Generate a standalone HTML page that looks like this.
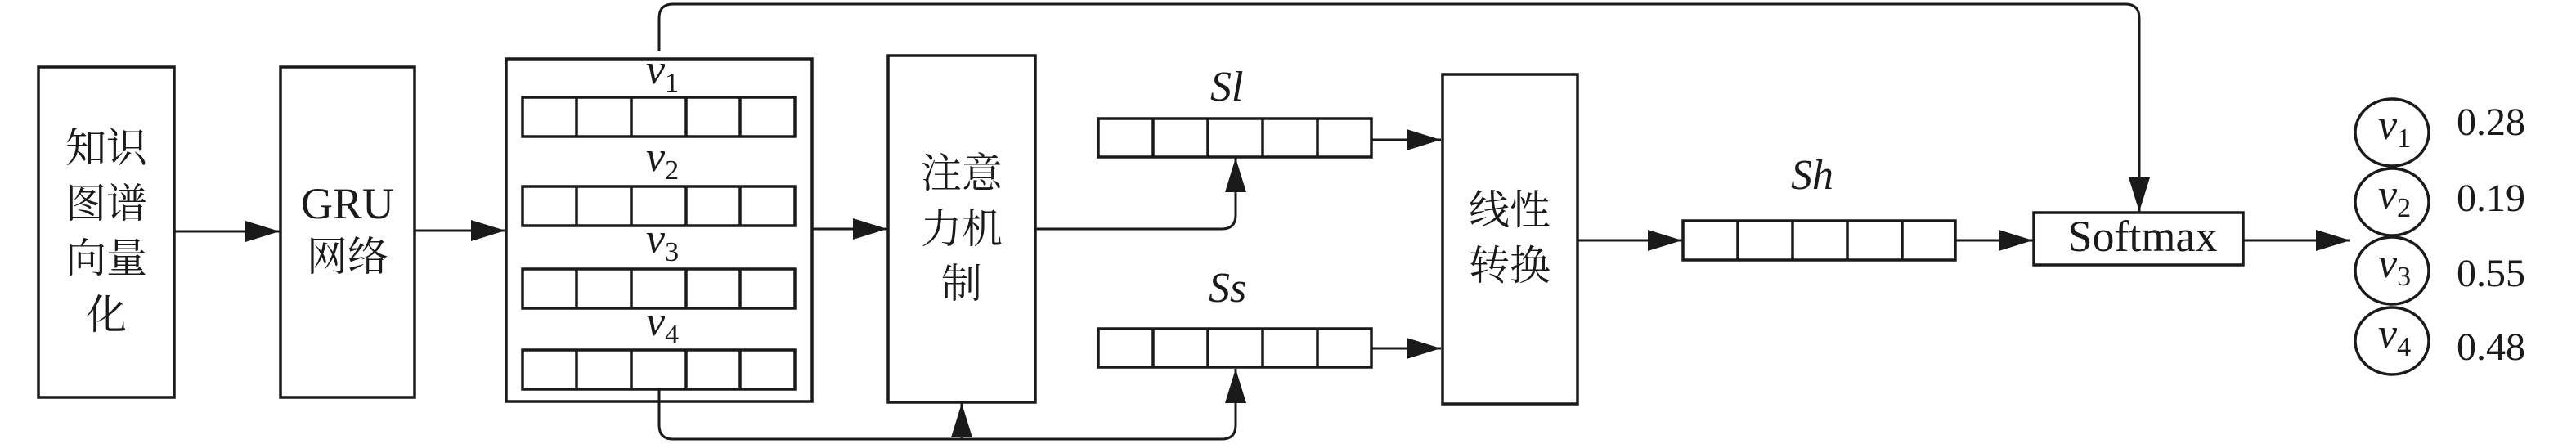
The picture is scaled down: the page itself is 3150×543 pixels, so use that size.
<!DOCTYPE html>
<html><head><meta charset="utf-8"><style>
html,body{margin:0;padding:0;background:#fff;}
svg{display:block;}
text{font-family:"Liberation Serif","Noto Serif CJK SC",serif;fill:#1a1a1a;}
.cj{font-size:50px;}
.lat{font-size:54px;}
.it{font-style:italic;font-size:52px;}
.sub{font-size:34px;font-style:normal;}
</style></head><body>
<svg width="3150" height="543" viewBox="0 0 3150 543" xmlns="http://www.w3.org/2000/svg">
<defs>
<marker id="ah" markerWidth="42" markerHeight="26" refX="42" refY="13" orient="auto" markerUnits="userSpaceOnUse">
<path d="M0,0 L42,13 L0,26 Z" fill="#1a1a1a"/>
</marker>
</defs>
<g fill="none" stroke="#1a1a1a" stroke-width="3.5">
<!-- boxes -->
<rect x="47" y="82" width="166" height="404"/>
<rect x="343" y="82" width="164" height="404"/>
<rect x="619" y="72" width="374" height="419"/>
<rect x="1086" y="68" width="180" height="424"/>
<rect x="1764" y="91" width="165" height="403"/>
<rect x="2487" y="260" width="256" height="64"/>
<!-- v vectors -->
<g id="vec">
<rect x="639" y="119" width="333" height="48"/>
<path d="M705,119V167M772,119V167M839,119V167M905,119V167"/>
</g>
<use href="#vec" y="109"/>
<use href="#vec" y="210"/>
<use href="#vec" y="309"/>
<!-- Sl, Ss -->
<rect x="1343" y="145" width="334" height="47"/>
<path d="M1410,145V192M1477,145V192M1544,145V192M1611,145V192"/>
<rect x="1343" y="402" width="334" height="47"/>
<path d="M1410,402V449M1477,402V449M1544,402V449M1611,402V449"/>
<!-- Sh -->
<rect x="2058" y="270" width="333" height="48"/>
<path d="M2125,270V318M2192,270V318M2259,270V318M2326,270V318"/>
<!-- ellipses -->
<ellipse cx="2925" cy="162" rx="45" ry="41"/>
<ellipse cx="2925" cy="247" rx="45" ry="41"/>
<ellipse cx="2925" cy="331" rx="45" ry="41"/>
<ellipse cx="2925" cy="417" rx="45" ry="41"/>
</g>
<g fill="none" stroke="#1a1a1a" stroke-width="3">
<path d="M213,283H342" marker-end="url(#ah)"/>
<path d="M507,282H618" marker-end="url(#ah)"/>
<path d="M993,280H1085" marker-end="url(#ah)"/>
<path d="M1266,280H1494Q1511,280 1511,263V193" marker-end="url(#ah)"/>
<path d="M1677,171H1762" marker-end="url(#ah)"/>
<path d="M1677,426H1762" marker-end="url(#ah)"/>
<path d="M1929,294H2057" marker-end="url(#ah)"/>
<path d="M2391,294H2486" marker-end="url(#ah)"/>
<path d="M2743,294H2874" marker-end="url(#ah)"/>
<path d="M806,62V22Q806,5 823,5H2599Q2616,5 2616,22V259" marker-end="url(#ah)"/>
<path d="M806,475V520Q806,537 823,537H1494Q1511,537 1511,520V451" marker-end="url(#ah)"/>
<path d="M1176,537V493" marker-end="url(#ah)"/>
</g>
<!-- texts -->
<g class="cj" text-anchor="middle">
<text x="130" y="198">知识</text>
<text x="130" y="266">图谱</text>
<text x="130" y="333">向量</text>
<text x="130" y="402">化</text>
<text x="425" y="331">网络</text>
<text x="1176" y="229">注意</text>
<text x="1176" y="297">力机</text>
<text x="1176" y="364">制</text>
<text x="1846" y="274">线性</text>
<text x="1846" y="342">转换</text>
</g>
<text class="lat" x="425" y="267" text-anchor="middle">GRU</text>
<text class="lat" x="2620" y="307" text-anchor="middle">Softmax</text>
<text class="it" x="790" y="102">v<tspan class="sub" dy="10">1</tspan></text>
<text class="it" x="790" y="209">v<tspan class="sub" dy="10">2</tspan></text>
<text class="it" x="790" y="309">v<tspan class="sub" dy="10">3</tspan></text>
<text class="it" x="790" y="410">v<tspan class="sub" dy="10">4</tspan></text>
<text class="it" x="1480" y="123">Sl</text>
<text class="it" x="1478" y="369">Ss</text>
<text class="it" x="2190" y="231">Sh</text>
<text class="it" x="2908" y="170">v<tspan class="sub" dy="10">1</tspan></text>
<text class="it" x="2908" y="255">v<tspan class="sub" dy="10">2</tspan></text>
<text class="it" x="2908" y="339">v<tspan class="sub" dy="10">3</tspan></text>
<text class="it" x="2908" y="425">v<tspan class="sub" dy="10">4</tspan></text>
<g style="font-size:48px">
<text x="3004" y="165">0.28</text>
<text x="3004" y="258">0.19</text>
<text x="3004" y="350">0.55</text>
<text x="3004" y="440">0.48</text>
</g>
</svg>
</body></html>
